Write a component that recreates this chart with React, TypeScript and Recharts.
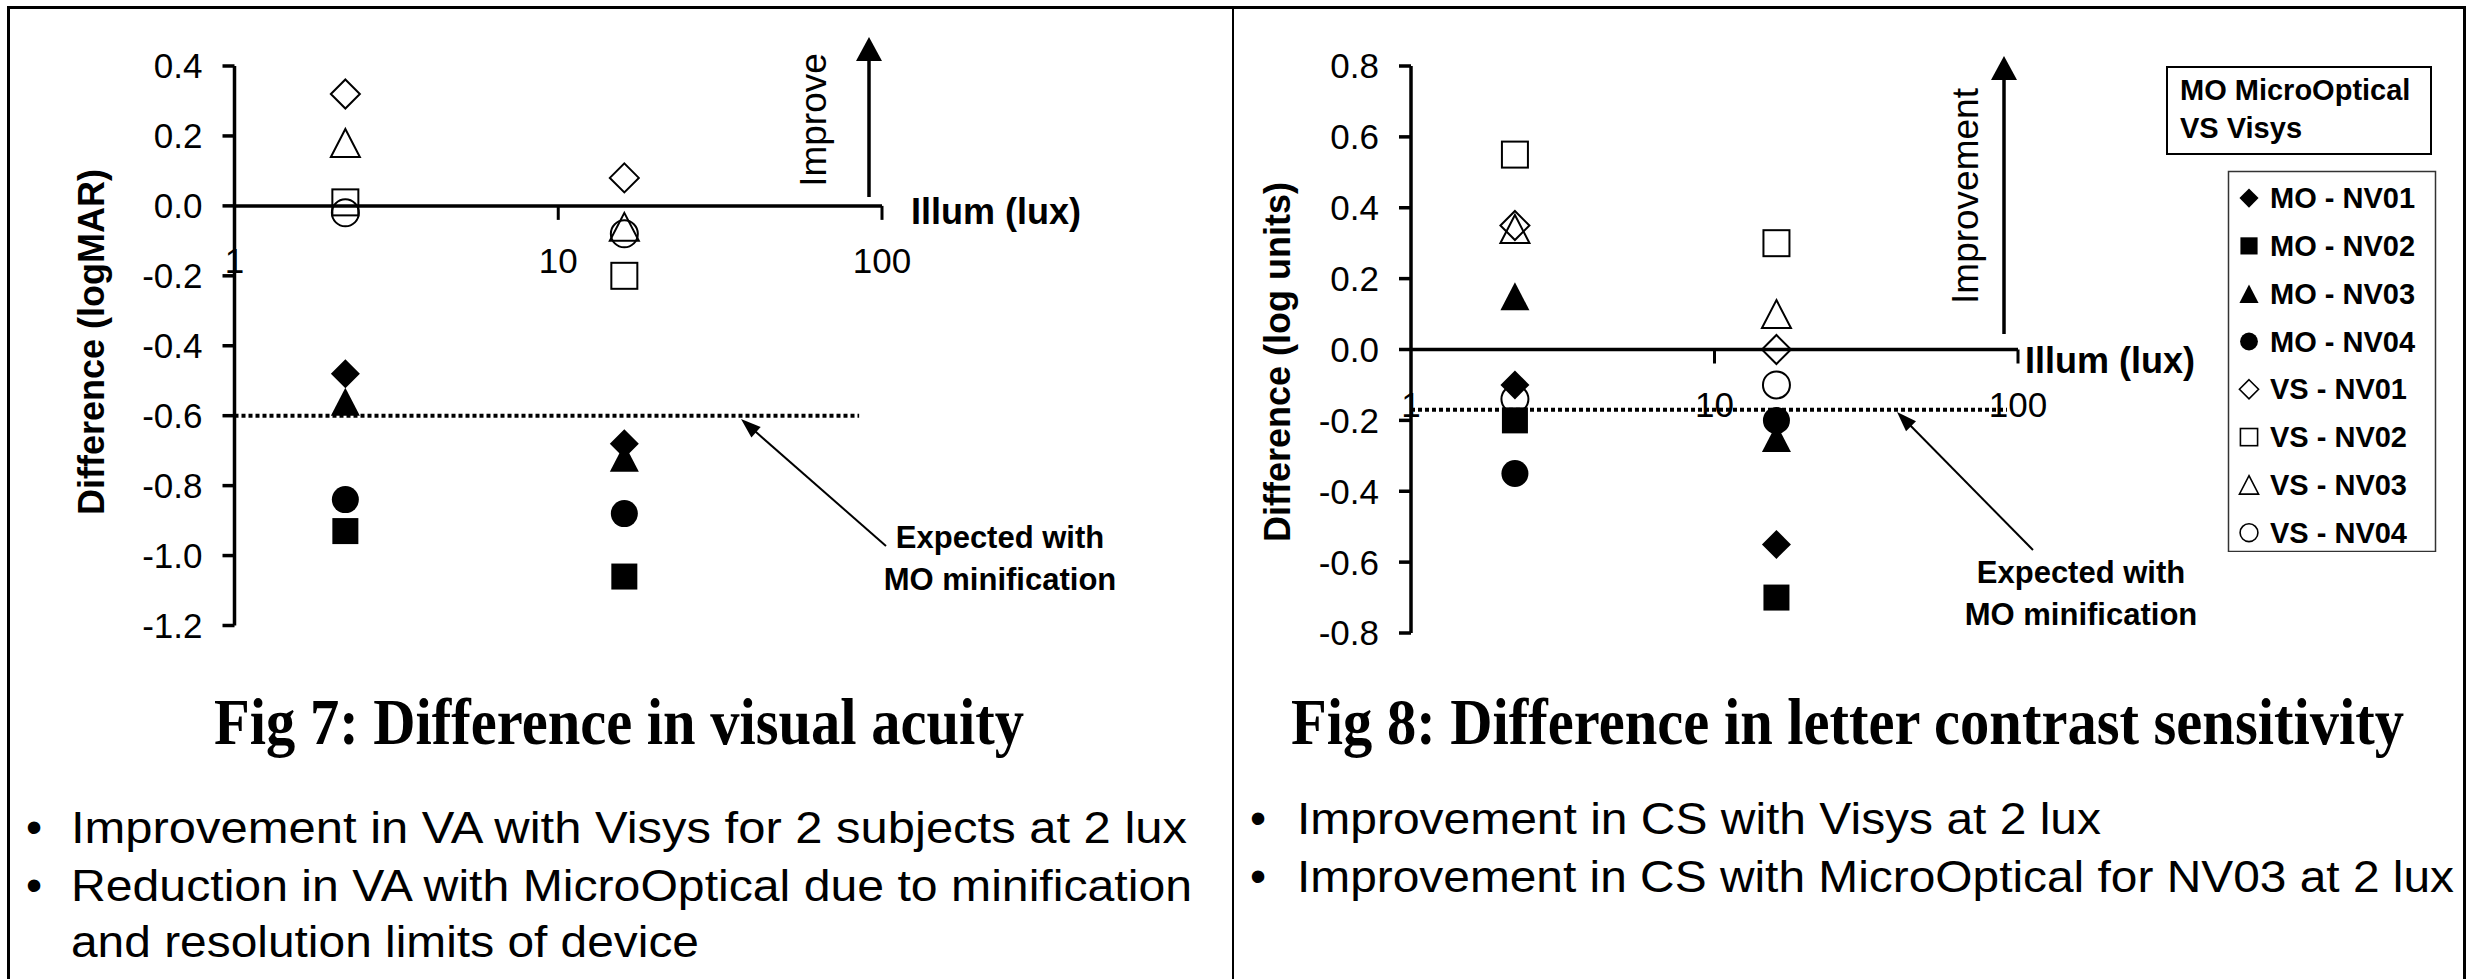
import React from 'react';
import { ScatterChart, Scatter, XAxis, YAxis, ReferenceLine, Legend } from 'recharts';

const SANS = '"Liberation Sans", Arial, sans-serif';
const SERIF = '"Liberation Serif", "Times New Roman", serif';

// illuminance of the two test conditions (lux)
const illum = [2.2, 16];
const xTicks = [1, 10, 100];

// Fig 7 - difference in visual acuity (logMAR)
const vaTicks = [0.4, 0.2, 0, -0.2, -0.4, -0.6, -0.8, -1.0, -1.2];
const vaMoNv01 = [-0.48, -0.68];
const vaMoNv02 = [-0.93, -1.06];
const vaMoNv03 = [-0.56, -0.72];
const vaMoNv04 = [-0.84, -0.88];
const vaVsNv01 = [0.32, 0.08];
const vaVsNv02 = [0.01, -0.2];
const vaVsNv03 = [0.18, -0.06];
const vaVsNv04 = [-0.02, -0.08];
const vaExpected = -0.6;
const vaExpectedTo = 85;

// Fig 8 - difference in letter contrast sensitivity (log units)
const csTicks = [0.8, 0.6, 0.4, 0.2, 0, -0.2, -0.4, -0.6, -0.8];
const csMoNv01 = [-0.1, -0.55];
const csMoNv02 = [-0.2, -0.7];
const csMoNv03 = [0.15, -0.25];
const csMoNv04 = [-0.35, -0.2];
const csVsNv01 = [0.35, 0.0];
const csVsNv02 = [0.55, 0.3];
const csVsNv03 = [0.34, 0.1];
const csVsNv04 = [-0.14, -0.1];
const csExpected = -0.17;
const csExpectedTo = 92;

const seriesNames = ['MO - NV01', 'MO - NV02', 'MO - NV03', 'MO - NV04', 'VS - NV01', 'VS - NV02', 'VS - NV03', 'VS - NV04'];
const seriesShapes = ['diamond', 'square', 'triangle', 'circle', 'diamond', 'square', 'triangle', 'circle'];
const seriesFilled = [true, true, true, true, false, false, false, false];
const deviceNotes = ['MO MicroOptical', 'VS Visys'];

const vaNotes = ['Improvement in VA with Visys for 2 subjects at 2 lux', 'Reduction in VA with MicroOptical due to minification', 'and resolution limits of device'];
const csNotes = ['Improvement in CS with Visys at 2 lux', 'Improvement in CS with MicroOptical for NV03 at 2 lux'];

const toPoints = (ys: number[]) => illum.map((x, i) => ({ x, y: ys[i] }));
const vaSeries = [vaMoNv01, vaMoNv02, vaMoNv03, vaMoNv04, vaVsNv01, vaVsNv02, vaVsNv03, vaVsNv04];
const csSeries = [csMoNv01, csMoNv02, csMoNv03, csMoNv04, csVsNv01, csVsNv02, csVsNv03, csVsNv04];

const Marker = ({ cx, cy, shape, filled, k = 1 }: any) => {
  const fill = filled ? '#000' : 'none';
  const sw = filled ? 0 : 2 * Math.max(k, 0.8);
  if (shape === 'diamond') {
    const h = 14.5 * k;
    return <polygon points={`${cx},${cy - h} ${cx + h},${cy} ${cx},${cy + h} ${cx - h},${cy}`} fill={fill} stroke="#000" strokeWidth={sw} />;
  }
  if (shape === 'square') {
    const h = 13 * k;
    return <rect x={cx - h} y={cy - h} width={2 * h} height={2 * h} fill={fill} stroke="#000" strokeWidth={sw} />;
  }
  if (shape === 'triangle') {
    const w = 14.5 * k;
    const h = 14 * k;
    return <polygon points={`${cx},${cy - h} ${cx + w},${cy + h} ${cx - w},${cy + h}`} fill={fill} stroke="#000" strokeWidth={sw} />;
  }
  return <circle cx={cx} cy={cy} r={13.5 * k} fill={fill} stroke="#000" strokeWidth={sw} />;
};

const YTitle = ({ text, cx, cy }: any) => (
  <text transform={`translate(${cx},${cy}) rotate(-90)`} textAnchor="middle" dominantBaseline="central"
    fontFamily={SANS} fontWeight="bold" fontSize={36} fill="#000">{text}</text>
);

const CsLegend = (props: any) => {
  const items = props.payload || [];
  return (
    <div style={{ position: 'relative', width: 272, height: 486 }}>
      <svg width={272} height={486} style={{ position: 'absolute', left: 0, top: 0 }}>
        <rect x={1} y={1} width={264} height={87} fill="#fff" stroke="#000" strokeWidth={2} />
        {deviceNotes.map((n, i) => (
          <text key={n} x={14} y={34 + i * 38} fontFamily={SANS} fontWeight="bold" fontSize={29} fill="#000">{n}</text>
        ))}
        <rect x={62.5} y={105.5} width={207} height={380} fill="#fff" stroke="#333" strokeWidth={1.5} />
        {items.map((it: any, i: number) => {
          const idx = seriesNames.indexOf(it.value);
          const cy = 105.5 + 26.6 + i * 47.8;
          return (
            <g key={it.value}>
              <Marker cx={83} cy={cy} shape={seriesShapes[idx]} filled={seriesFilled[idx]} k={0.66} />
              <text x={104} y={cy + 10} fontFamily={SANS} fontWeight="bold" fontSize={29} fill="#000">{it.value}</text>
            </g>
          );
        })}
      </svg>
    </div>
  );
};

const Panel = ({ left, yTicks, series, yMin, yMax, axisW, marginRight, plotBottom, expected, expectedTo, yTitle, titleX, titleY, legend }: any) => {
  const plotTop = 66;
  const xAxisH = 20;
  const zeroOffset = ((plotBottom - plotTop) * (0 - yMin)) / (yMax - yMin);
  const XTick = (p: any) => {
    const { x, y, payload } = p;
    const y0 = y - zeroOffset;
    return (
      <g>
        {payload.value !== xTicks[0] && <line x1={x} x2={x} y1={y0} y2={y0 + 14} stroke="#000" strokeWidth={3} />}
        <text x={x} y={y0 + 67} textAnchor="middle" fontFamily={SANS} fontSize={35} fill="#000">{payload.value}</text>
      </g>
    );
  };
  return (
    <div style={{ position: 'absolute', left, top: 0 }}>
      <ScatterChart width={1232} height={660} margin={{ top: plotTop, right: marginRight, bottom: 660 - plotBottom - xAxisH, left: 0 }}>
        <XAxis dataKey="x" type="number" scale="log" domain={[1, 100]} ticks={xTicks} allowDataOverflow
          axisLine={false} tickLine={false} tickSize={0} tickMargin={0} height={xAxisH} tick={XTick} interval={0} />
        <YAxis dataKey="y" type="number" domain={[yMin, yMax]} ticks={yTicks} allowDataOverflow width={axisW} interval={0}
          tickFormatter={(v: number) => v.toFixed(1)}
          axisLine={{ stroke: '#000', strokeWidth: 3.5 }} tickLine={{ stroke: '#000', strokeWidth: 3.5 }}
          tickSize={12} tickMargin={20}
          tick={{ fill: '#000', fontSize: 35, fontFamily: SANS }}
          label={<YTitle text={yTitle} cx={titleX} cy={titleY} />} />
        <ReferenceLine y={0} stroke="#000" strokeWidth={3.5} />
        <ReferenceLine segment={[{ x: 1, y: expected }, { x: expectedTo, y: expected }]} stroke="#000" strokeWidth={4} strokeDasharray="4 3" />
        {series.map((ys: number[], i: number) => (
          <Scatter key={seriesNames[i]} name={seriesNames[i]} data={toPoints(ys)} isAnimationActive={false}
            shape={(p: any) => <Marker cx={p.cx} cy={p.cy} shape={seriesShapes[i]} filled={seriesFilled[i]} />} />
        ))}
        {legend && (
          <Legend layout="vertical" align="center" verticalAlign="middle" content={CsLegend}
            wrapperStyle={{ left: 933, top: 66, width: 272, height: 486 }} />
        )}
      </ScatterChart>
    </div>
  );
};

const Arrow = ({ x1, y1, x2, y2, sw, head, hw }: any) => {
  const dx = x2 - x1;
  const dy = y2 - y1;
  const len = Math.sqrt(dx * dx + dy * dy);
  const ux = dx / len;
  const uy = dy / len;
  const bx = x2 - ux * head;
  const by = y2 - uy * head;
  return (
    <g>
      <line x1={x1} y1={y1} x2={bx + ux * 2} y2={by + uy * 2} stroke="#000" strokeWidth={sw} />
      <polygon points={`${x2},${y2} ${bx - uy * hw},${by + ux * hw} ${bx + uy * hw},${by - ux * hw}`} fill="#000" />
    </g>
  );
};

const Overlay = () => (
  <svg width={2475} height={979} style={{ position: 'absolute', left: 0, top: 0, pointerEvents: 'none' }}>
    <line x1={8.5} y1={6} x2={8.5} y2={979} stroke="#000" strokeWidth={3} />
    <line x1={7} y1={7.5} x2={2466} y2={7.5} stroke="#000" strokeWidth={3} />
    <line x1={2464.5} y1={6} x2={2464.5} y2={979} stroke="#000" strokeWidth={3} />
    <line x1={1233} y1={6} x2={1233} y2={979} stroke="#000" strokeWidth={2} />

    <Arrow x1={869} y1={197} x2={869} y2={37} sw={3.5} head={24} hw={13} />
    <text transform="translate(813,120) rotate(-90)" textAnchor="middle" dominantBaseline="central" fontFamily={SANS} fontSize={37} fill="#000">Improve</text>
    <text x={911} y={224} fontFamily={SANS} fontWeight="bold" fontSize={36} fill="#000">Illum (lux)</text>
    <Arrow x1={886} y1={546} x2={741} y2={419} sw={2} head={20} hw={7} />
    <text x={1000} y={548} textAnchor="middle" fontFamily={SANS} fontWeight="bold" fontSize={31} fill="#000">Expected with</text>
    <text x={1000} y={590} textAnchor="middle" fontFamily={SANS} fontWeight="bold" fontSize={31} fill="#000">MO minification</text>

    <Arrow x1={2004} y1={334} x2={2004} y2={56} sw={3.5} head={24} hw={13} />
    <text transform="translate(1965,196) rotate(-90)" textAnchor="middle" dominantBaseline="central" fontFamily={SANS} fontSize={37} fill="#000">Improvement</text>
    <text x={2025} y={373} fontFamily={SANS} fontWeight="bold" fontSize={36} fill="#000">Illum (lux)</text>
    <Arrow x1={2033} y1={550} x2={1897} y2={412} sw={2} head={20} hw={7} />
    <text x={2081} y={583} textAnchor="middle" fontFamily={SANS} fontWeight="bold" fontSize={31} fill="#000">Expected with</text>
    <text x={2081} y={625} textAnchor="middle" fontFamily={SANS} fontWeight="bold" fontSize={31} fill="#000">MO minification</text>

    <text x={214} y={744} fontFamily={SERIF} fontWeight="bold" fontSize={66} textLength={810} lengthAdjust="spacingAndGlyphs" fill="#000">Fig 7: Difference in visual acuity</text>
    <text x={1291} y={744} fontFamily={SERIF} fontWeight="bold" fontSize={66} textLength={1113} lengthAdjust="spacingAndGlyphs" fill="#000">Fig 8: Difference in letter contrast sensitivity</text>

    <text x={34} y={843} textAnchor="middle" fontFamily={SANS} fontSize={46} fill="#000">•</text>
    <text x={71} y={843} fontFamily={SANS} fontSize={44} textLength={1116} lengthAdjust="spacingAndGlyphs" fill="#000">{vaNotes[0]}</text>
    <text x={34} y={901} textAnchor="middle" fontFamily={SANS} fontSize={46} fill="#000">•</text>
    <text x={71} y={901} fontFamily={SANS} fontSize={44} textLength={1121} lengthAdjust="spacingAndGlyphs" fill="#000">{vaNotes[1]}</text>
    <text x={71} y={957} fontFamily={SANS} fontSize={44} textLength={628} lengthAdjust="spacingAndGlyphs" fill="#000">{vaNotes[2]}</text>

    <text x={1258} y={834} textAnchor="middle" fontFamily={SANS} fontSize={46} fill="#000">•</text>
    <text x={1297} y={834} fontFamily={SANS} fontSize={44} textLength={804} lengthAdjust="spacingAndGlyphs" fill="#000">{csNotes[0]}</text>
    <text x={1258} y={892} textAnchor="middle" fontFamily={SANS} fontSize={46} fill="#000">•</text>
    <text x={1297} y={892} fontFamily={SANS} fontSize={44} textLength={1157} lengthAdjust="spacingAndGlyphs" fill="#000">{csNotes[1]}</text>
  </svg>
);

export default function App() {
  return (
    <div style={{ position: 'absolute', left: 0, top: 0, width: 2475, height: 979, overflow: 'hidden', background: '#fff' }}>
      <Panel left={0} yTicks={vaTicks} series={vaSeries} yMin={-1.2} yMax={0.4} axisW={234.5} marginRight={350}
        plotBottom={625.5} expected={vaExpected} expectedTo={vaExpectedTo} yTitle="Difference (logMAR)" titleX={91} titleY={342} legend={false} />
      <Panel left={1233} yTicks={csTicks} series={csSeries} yMin={-0.8} yMax={0.8} axisW={178} marginRight={447}
        plotBottom={633} expected={csExpected} expectedTo={csExpectedTo} yTitle="Difference (log units)" titleX={44.6} titleY={362} legend={true} />
      <Overlay />
    </div>
  );
}
